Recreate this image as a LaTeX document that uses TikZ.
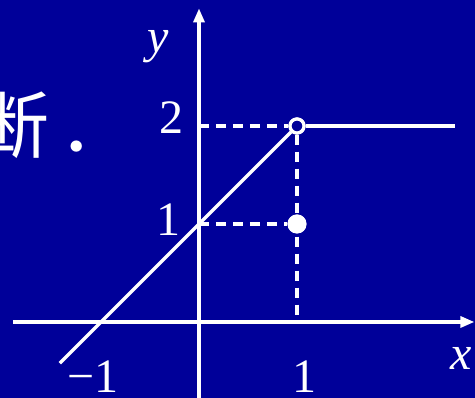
\documentclass[tikz,border=0pt]{standalone}
\usepackage{fontspec}
\setmainfont{Liberation Serif}
\newfontfamily\cjkfont{Noto Sans CJK SC}
\usetikzlibrary{arrows.meta}
\definecolor{slidebg}{HTML}{000099}

\begin{document}
\begin{tikzpicture}[x=98pt,y=98pt,
    axis/.style={draw=white,line width=3.2pt,-{Triangle[length=14pt,width=11pt]}},
    graph/.style={draw=white,line width=3.2pt},
    guide/.style={draw=white,line width=3.2pt,dash pattern=on 10pt off 7pt},
    lbl/.style={text=white,font=\fontsize{48}{50}\selectfont,inner sep=0pt},
    holept/.style={circle,draw=white,fill=slidebg,line width=3.2pt,minimum size=14pt,inner sep=0pt},
    dotpt/.style={circle,fill=white,minimum size=19pt,inner sep=0pt},
  ]
    % background, fixes the page size
    \fill[slidebg] (-199pt,-76pt) rectangle (276pt,322pt);
    \useasboundingbox (-199pt,-76pt) rectangle (276pt,322pt);

    % text left over from the slide
    \node[text=white,font=\cjkfont\fontsize{72}{74}\selectfont,inner sep=0pt] (note) at (-1.47,2.01) {断\kern10pt．};

    % points on the axes
    \coordinate (xs) at (-1.90,0);
    \coordinate (xe) at (2.81,0);
    \coordinate (ys) at (0,-0.80);
    \coordinate (ye) at (0,3.20);
    \coordinate (Y1) at (0,1);
    \coordinate (Y2) at (0,2);
    \coordinate (X1) at (1,0);
    \coordinate (A) at (-1.42,-0.42);
    \coordinate (R) at (2.61,2);

    % axes
    \draw[axis] (xs) -- (xe);
    \draw[axis] (ys) -- (ye);

    % the two marked points
    \node[holept] (P) at (1,2) {};
    \node[dotpt] (Q) at (1,1) {};

    % dashed guides
    \draw[guide] (Y2) -- (P);
    \draw[guide] (Y1) -- (Q);
    \draw[guide] (P) -- (X1);
    \node[dotpt] at (Q) {};

    % graph
    \draw[graph] (A) -- (P);
    \draw[graph] (P) -- (R);
    \node[holept] at (P) {};

    % labels
    \node[lbl] (ylab) at (-0.42,2.81) {\itshape y};
    \node[lbl] (xlab) at (2.68,-0.37) {\itshape x};
    \node[lbl] (two) at (-0.28,2.09) {2};
    \node[lbl] (one) at (-0.31,1.04) {1};
    \node[lbl] (mone) at (-1.08,-0.56) {−1};
    \node[lbl] (xone) at (1.08,-0.56) {1};
  \end{tikzpicture}
\end{document}
